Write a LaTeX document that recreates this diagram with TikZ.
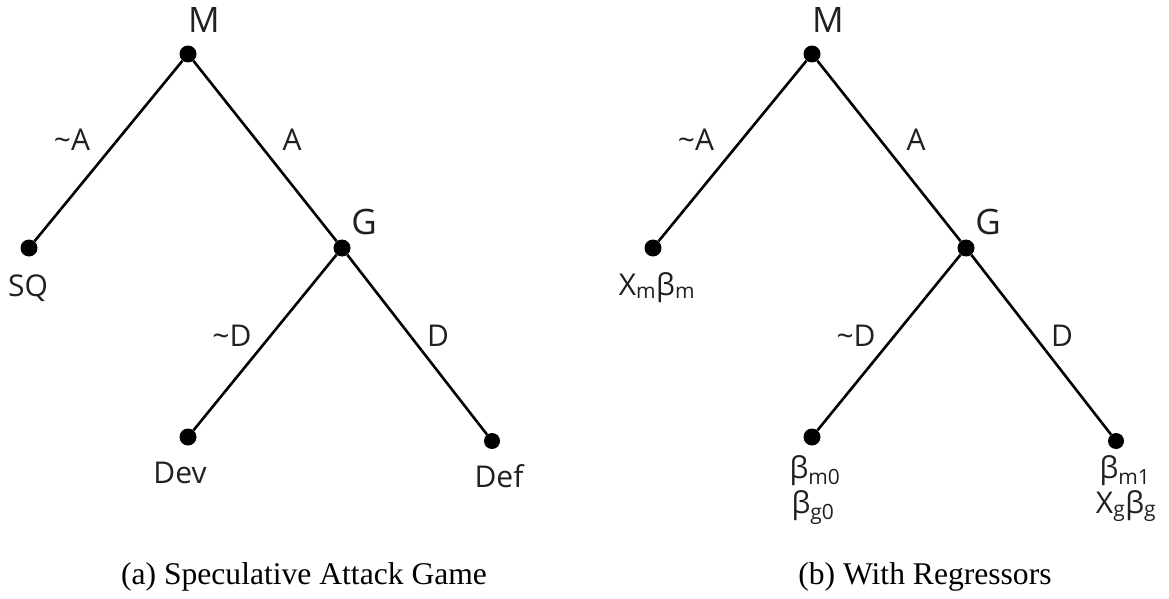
\documentclass[tikz,border=0pt]{standalone}
\usepackage{fontspec}
\setmainfont{Liberation Serif}
\newfontfamily\lblfont{Open Sans}
\definecolor{txt}{RGB}{35,31,32}
\begin{document}
\begin{tikzpicture}[x=1pt,y=-1pt,
  dot/.style={circle,fill=black,inner sep=0pt,minimum size=17pt},
  edge/.style={draw=black,line width=2.6pt},
  lbl/.style={inner sep=0pt,anchor=base,text=txt,font=\lblfont\fontsize{30}{36}\selectfont},
  player/.style={lbl,font=\lblfont\fontsize{35}{42}\selectfont},
  capt/.style={inner sep=0pt,anchor=base,text=black,font=\fontsize{31.6}{38}\selectfont}]
\useasboundingbox (0,0) rectangle (1169,599);

% ---------- left tree ----------
\node[dot] (aM) at (188,54) {};
\node[dot] (aSQ) at (29,248) {};
\node[dot] (aG) at (342,248) {};
\node[dot] (aDev) at (188,437) {};
\node[dot,minimum size=16pt] (aDef) at (492,441) {};
\draw[edge] (aM) -- (aSQ);
\draw[edge] (aM) -- (aG);
\draw[edge] (aG) -- (aDev);
\draw[edge] (aG) -- (aDef);
\node[player] (aMl) at (204,33) {M};
\node[player] (aGl) at (364,234) {G};
\node[lbl] (anA) at (72,150) {\textasciitilde A};
\node[lbl] (aA) at (292,150) {A};
\node[lbl] (aSQl) at (28,296) {SQ};
\node[lbl] (anD) at (232,346) {\textasciitilde D};
\node[lbl] (aD) at (438,346) {D};
\node[lbl] (aDevl) at (180,483) {Dev};
\node[lbl] (aDefl) at (499,487) {Def};
\node[capt] (capa) at (304,584) {(a) Speculative Attack Game};

% ---------- right tree ----------
\node[dot] (bM) at (812,54) {};
\node[dot] (bL) at (653,248) {};
\node[dot] (bG) at (966,248) {};
\node[dot] (bLL) at (812,437) {};
\node[dot,minimum size=16pt] (bRR) at (1116,441) {};
\draw[edge] (bM) -- (bL);
\draw[edge] (bM) -- (bG);
\draw[edge] (bG) -- (bLL);
\draw[edge] (bG) -- (bRR);
\node[player] (bMl) at (828,33) {M};
\node[player] (bGl) at (988,234) {G};
\node[lbl] (bnA) at (696,150) {\textasciitilde A};
\node[lbl] (bA) at (916,150) {A};
\node[lbl] (bLl) at (657,295) {X\textsubscript{m}β\textsubscript{m}};
\node[lbl] (bnD) at (856,346) {\textasciitilde D};
\node[lbl] (bD) at (1062,346) {D};
\node[lbl] (bLL1) at (815,478) {β\textsubscript{m0}};
\node[lbl] (bLL2) at (813,513) {β\textsubscript{g0}};
\node[lbl] (bRR1) at (1125,478) {β\textsubscript{m1}};
\node[lbl] (bRR2) at (1126,513) {X\textsubscript{g}β\textsubscript{g}};
\node[capt] (capb) at (925,584) {(b) With Regressors};
\end{tikzpicture}
\end{document}
